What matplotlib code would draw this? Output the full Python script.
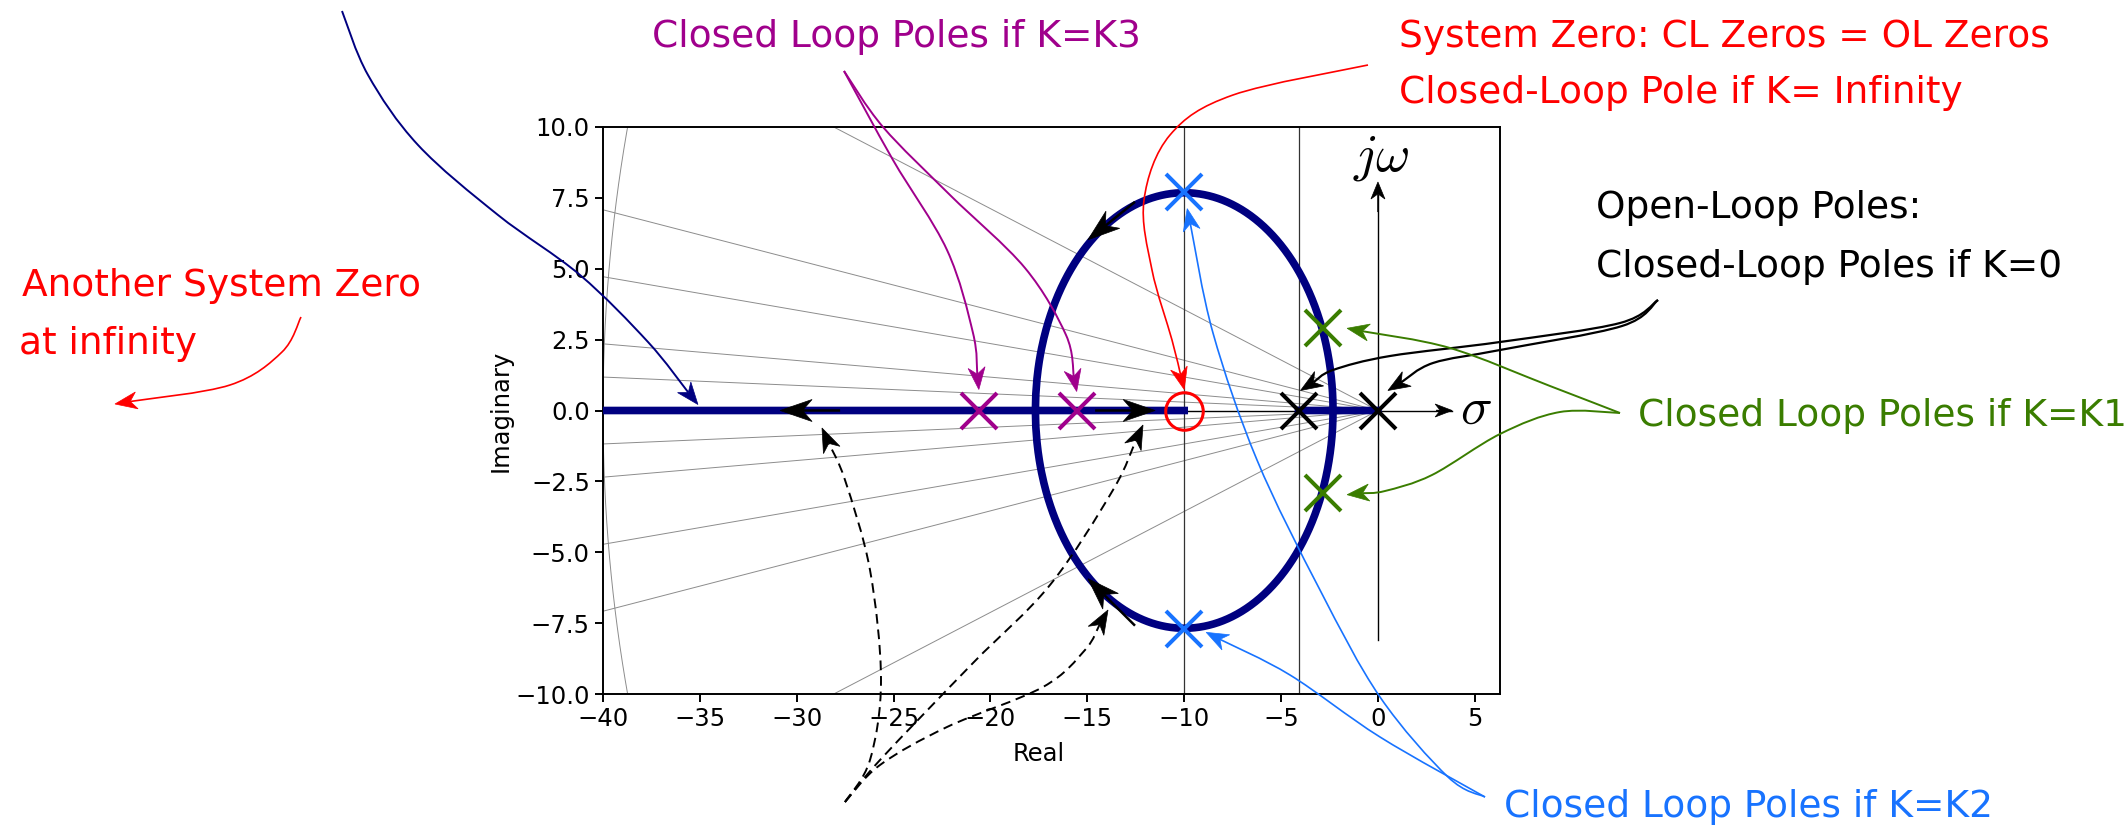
import numpy as np
import matplotlib
matplotlib.use('Agg')
import matplotlib.pyplot as plt
from matplotlib.path import Path
from matplotlib.patches import PathPatch, Polygon
from matplotlib.transforms import IdentityTransform

plt.rcParams['mathtext.fontset'] = 'cm'
plt.rcParams['font.family'] = ['DejaVu Sans']

# open loop: K (s + 10) / (s (s + 4.1))
ol_poles = np.array([0.0, -4.1])
ol_zeros = np.array([-10.0])

# closed-loop poles for the three highlighted gains
k1_poles = np.array([-2.83 + 2.9j, -2.83 - 2.9j])
k2_poles = np.array([-10.0 + 7.72j, -10.0 - 7.72j])
k3_poles = np.array([-20.6 + 0j, -15.55 + 0j])

# s-plane grid: damping rays (slope from origin), wn circle, vertical guides
ray_slopes = [0.0295, 0.0588, 0.118, 0.177, 0.356]
wn_circles = [40.0]
guide_lines = [-10.0, -4.1]

xticks = np.arange(-40, 6, 5)
yticks = np.arange(-10, 10.1, 2.5)

navy = '#000080'
purple = '#A0008C'
blue = '#1873FF'
green = '#3A7D00'
red = '#FF0000'

W, H = 2124, 827
fig = plt.figure(figsize=(W / 100, H / 100), dpi=100)
ax = fig.add_axes([603 / W, 1 - 694 / H, 897 / W, 567 / H])
ax.set_xlim(-40, 6.3)
ax.set_ylim(-10, 10)

# root locus branches
num = np.poly(ol_zeros)
den = np.poly(ol_poles)
brk = np.polysub(np.polymul(np.polyder(den), num), np.polymul(den, np.polyder(num)))
sb = np.roots(brk).real
kb = -np.polyval(den, sb) / np.polyval(num, sb)
gains = np.sort(np.concatenate([np.logspace(-5, 5, 6000), kb[kb > 0]]))
locus = []
for k in gains:
    r = np.roots(np.polyadd(den, k * num))
    r = sorted(r, key=lambda z: (-round(z.imag, 6), -z.real))
    locus.append(r)
locus = np.array(locus)

# grid
for t in ray_slopes:
    ax.plot([0, -60], [0, 60 * t], color='#8c8c8c', lw=0.7, zorder=1)
    ax.plot([0, -60], [0, -60 * t], color='#8c8c8c', lw=0.7, zorder=1)
th = np.linspace(np.pi / 2, 3 * np.pi / 2, 400)
for wn in wn_circles:
    ax.plot(wn * np.cos(th), wn * np.sin(th), color='#8c8c8c', lw=0.7, zorder=1)
for g in guide_lines:
    ax.axvline(g, color='#333333', lw=0.9, zorder=1)

# sigma and j-omega axes
ax.plot([-40, 3.83], [0, 0], color='k', lw=1.0, zorder=2)
ax.plot([0, 0], [-8.1, 7.6], color='k', lw=1.0, zorder=2)
ax.text(0.15, 8.94, r'$j\omega$', fontsize=38, ha='center', va='center')
ax.text(5.06, 0.05, r'$\sigma$', fontsize=38, ha='center', va='center')

for b in range(locus.shape[1]):
    ax.plot(locus[:, b].real, locus[:, b].imag, color=navy, lw=5.5, zorder=3)

ax.plot(ol_poles, np.zeros_like(ol_poles), 'x', color='k', ms=26, mew=2.9, zorder=5)
ax.plot(k3_poles.real, k3_poles.imag, 'x', color=purple, ms=26, mew=2.9, zorder=5)
ax.plot(k1_poles.real, k1_poles.imag, 'x', color=green, ms=26, mew=2.9, zorder=5)
ax.plot(k2_poles.real, k2_poles.imag, 'x', color=blue, ms=26, mew=2.9, zorder=5)
ax.plot(ol_zeros, np.zeros_like(ol_zeros), 'o', mfc='none', mec=red, ms=27, mew=2.2, zorder=5)

ax.set_xticks(xticks)
ax.set_yticks(yticks)
ax.tick_params(labelsize=17.5, length=6, width=1.4)
for s in ax.spines.values():
    s.set_linewidth(1.4)
ax.set_xlabel('Real', fontsize=17.5)
ax.set_ylabel('Imaginary', fontsize=17.5)
ax.xaxis.set_label_coords(0.486, -0.085)
ax.yaxis.set_label_coords(-0.1003, 0.5)


def data_px(x, y):
    d = ax.transData.transform((x, y))
    return np.array([d[0], H - d[1]])


def flip(pts):
    pts = np.asarray(pts, float)
    return np.column_stack([pts[:, 0], H - pts[:, 1]])


def smooth(pts):
    ext = [pts[0]] + pts + [pts[-1]]
    verts, codes = [pts[0]], [Path.MOVETO]
    for i in range(1, len(ext) - 2):
        p0, p1, p2, p3 = ext[i - 1], ext[i], ext[i + 1], ext[i + 2]
        verts += [p1 + (p2 - p0) / 6, p2 - (p3 - p1) / 6, p2]
        codes += [Path.CURVE4] * 3
    return verts, codes


def arrow(pts, color, lw=1.2, ls='-', head=(22, 17)):
    pts = [np.asarray(p, float) for p in pts]
    tip = pts[-1]
    d = tip - pts[-2]
    d = d / np.hypot(*d)
    n = np.array([-d[1], d[0]])
    L, Wh = head
    notch = tip - 0.7 * L * d
    verts, codes = smooth(pts[:-1] + [notch])
    fig.add_artist(PathPatch(Path(flip(verts), codes), fill=False, ec=color, lw=lw,
                             ls=ls, capstyle='butt', transform=IdentityTransform()))
    hd = [tip, tip - L * d + Wh / 2 * n, notch, tip - L * d - Wh / 2 * n]
    fig.add_artist(Polygon(flip(hd), closed=True, fc=color, ec=color, lw=0.5,
                           transform=IdentityTransform()))


def label(x, y, s, color):
    fig.text(x / W, 1 - y / H, s, fontsize=27, color=color, ha='left', va='baseline')


# direction of travel along the locus
flow = [((-27.76, 0), (-30.86, 0)), ((-14.6, 0), (-11.5, 0)),
        ((-12.54, 7.36), (-14.97, 6.02)), ((-12.54, -7.59), (-14.97, -5.93))]
for a, b in flow:
    arrow([data_px(*a), data_px(*b)], 'k', lw=1.8, head=(32, 22))

# axis arrow heads
arrow([data_px(0, 7.0), data_px(0, 8.06)], 'k', lw=1.0, head=(17, 14))
arrow([data_px(3.0, 0), data_px(3.83, 0)], 'k', lw=1.0, head=(17, 13))

# left: locus to the far left, zero at infinity
arrow([(342, 11), (368, 75), (418, 145), (498, 215), (580, 275), (648, 342),
       data_px(-35.1, 0) + (0, -6)], navy, lw=1.4)
label(22, 296, 'Another System Zero', red)
label(19, 354, 'at infinity', red)
arrow([(301, 317), (282, 352), (230, 385), (115, 404)], red, lw=1.2)

# K = K3
label(652, 47, 'Closed Loop Poles if K=K3', purple)
p3 = [data_px(z.real, z.imag) for z in k3_poles]
arrow([(844, 71), (893, 160), (947, 250), (973, 333), p3[0] + (0, -21)],
      purple, lw=1.4)
arrow([(844, 71), (883, 127), (950, 195), (1025, 268), (1066, 335),
       p3[1] + (0, -19)], purple, lw=1.4)

# zero
label(1399, 47, 'System Zero: CL Zeros = OL Zeros', red)
label(1399, 103, 'Closed-Loop Pole if K= Infinity', red)
z0 = data_px(ol_zeros[0], 0)
arrow([(1368, 65), (1233, 95), (1170, 135), (1144, 200), (1152, 270), (1172, 340),
       z0 + (0, -21)], red, lw=1.2)

# open-loop poles
label(1596, 218, 'Open-Loop Poles:', 'k')
label(1596, 277, 'Closed-Loop Poles if K=0', 'k')
q = [data_px(p, 0) for p in ol_poles]
arrow([(1658, 300), (1620, 323), (1500, 342), (1390, 356), (1333, 370),
       q[1] + (2, -20)], 'k', lw=1.6)
arrow([(1658, 300), (1622, 326), (1500, 350), (1433, 363),
       q[0] + (10, -20)], 'k', lw=1.6)

# K = K1
label(1638, 426, 'Closed Loop Poles if K=K1', green)
p1 = [data_px(z.real, z.imag) for z in k1_poles]
arrow([(1620, 413), (1550, 386), (1450, 348), p1[0] + (24, 0)],
      green, lw=1.4)
arrow([(1620, 413), (1560, 412), (1500, 434), (1432, 475), (1385, 491),
       p1[1] + (24, 2)], green, lw=1.4)

# K = K2
label(1504, 817, 'Closed Loop Poles if K=K2', blue)
p2 = [data_px(z.real, z.imag) for z in k2_poles]
arrow([(1485, 797), (1380, 737), (1290, 675), p2[1] + (22, 3)],
      blue, lw=1.2)
arrow([(1485, 797), (1448, 777), (1380, 697), (1320, 590), (1257, 460),
       (1213, 333), p2[0] + (3, 17)], blue, lw=1.2)

# dashed pointers to the flow arrows
dash = (0, (5, 3))
arrow([(845, 802), (870, 760), (881, 680), (870, 570), (845, 480),
       (822, 428)], 'k', lw=1.4, ls=dash, head=(24, 18))
arrow([(845, 802), (880, 760), (973, 663), (1050, 585), (1113, 490),
       (1143, 425)], 'k', lw=1.4, ls=dash, head=(24, 18))
arrow([(845, 802), (880, 765), (947, 727), (1043, 687), (1085, 650),
       (1108, 610)], 'k', lw=1.4, ls=dash, head=(24, 18))

fig.savefig('out.png', dpi=100)
